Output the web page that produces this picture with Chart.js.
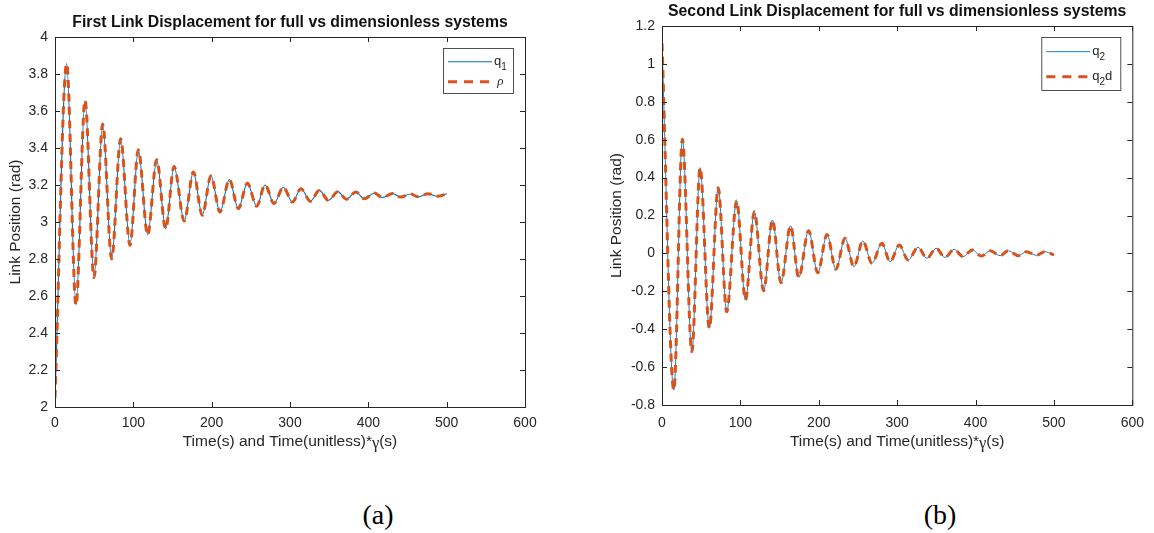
<!DOCTYPE html>
<html>
<head>
<meta charset="utf-8">
<script src="https://cdn.jsdelivr.net/npm/chart.js@4.4.0/dist/chart.umd.min.js"></script>
<style>
    html, body { margin: 0; padding: 0; background: #fff; }
    #wrap { position: relative; width: 1154px; height: 533px; overflow: hidden; }
    canvas { position: absolute; top: 0; }
    .cap { position: absolute; top: 501px; line-height: 28px; font-family: "Liberation Serif", "Times New Roman", serif; font-size: 28px; color: #000; transform: translateX(-50%); }
</style>
</head>
<body>
<div id="wrap">
    <canvas id="chartA" width="580" height="460" style="left:0"></canvas>
    <canvas id="chartB" width="574" height="460" style="left:580px"></canvas>
    <div class="cap" style="left:378px">(a)</div>
    <div class="cap" style="left:940px">(b)</div>
</div>
<script>
// First link: extrema (time, rad)
const q1Time = [0, 14.9, 26.8, 38.3, 49.8, 60.9, 72.3, 83.8, 95.7, 106.4, 118.3, 129.8, 141.3, 152.0,
    165.0, 176.6, 188.0, 199.1, 210.6, 222.6, 234.0, 245.6, 257.5, 268.1, 279.6, 291.5, 303, 314,
    326, 337.5, 349, 361, 372, 384, 395, 408, 418, 431, 441, 454, 464, 476, 488, 500];
const q1Values = [2.05, 3.856, 2.55, 3.658, 2.70, 3.53, 2.80, 3.45, 2.874, 3.39, 2.93, 3.337, 2.964, 3.30,
    3.005, 3.27, 3.036, 3.25, 3.054, 3.23, 3.072, 3.21, 3.085, 3.20, 3.10, 3.188, 3.108, 3.18,
    3.112, 3.171, 3.117, 3.164, 3.123, 3.162, 3.126, 3.157, 3.132, 3.154, 3.135, 3.151, 3.136, 3.153, 3.139, 3.152];
const rhoValues = q1Values; // dimensionless curve lies on top of q1

// Second link
const q2Time = [0, 15.1, 26, 38.1, 48.6, 60.4, 71.7, 82.6, 95.2, 106.5, 117.8, 129.6, 140.9, 151.8,
    164, 174.5, 187, 198.7, 210.5, 221.8, 233.5, 244.8, 256.2, 267.9, 280.5, 291, 302.7, 314,
    326.6, 338, 349.7, 361, 372.7, 384, 395.8, 407.5, 418.9, 431.4, 441.9, 454.5, 465, 477.6, 488, 500];
const q2Values = [1.109, -0.721, 0.602, -0.519, 0.452, -0.395, 0.347, -0.308, 0.277, -0.246, 0.22, -0.197, 0.176, -0.155,
    0.145, -0.126, 0.12, -0.102, 0.10, -0.084, 0.08, -0.07, 0.065, -0.052, 0.053, -0.044, 0.044, -0.035,
    0.032, -0.026, 0.027, -0.021, 0.021, -0.017, 0.018, -0.014, 0.014, -0.012, 0.014, -0.012, 0.009, -0.010, 0.009, -0.008];
const q2dValues = q2Values;

const xTicks = [0, 100, 200, 300, 400, 500, 600];

const axisColor = '#262626';
const sans = '"Liberation Sans", Arial, Helvetica, sans-serif';
const blue = '#0072BD';
const orange = '#D95319';

function toPoints(ts, vs) {
    return ts.map((t, i) => ({ x: t, y: vs[i] }));
}

// draws text pieces one after another (for subscripts and greek letters)
function drawParts(ctx, parts, x, y, align) {
    let total = 0;
    parts.forEach(p => { ctx.font = p.font; total += ctx.measureText(p.text).width; });
    let cx = align === 'center' ? x - total / 2 : x;
    parts.forEach(p => {
        ctx.font = p.font;
        ctx.fillText(p.text, cx, y + (p.dy || 0));
        cx += ctx.measureText(p.text).width;
    });
}

// MATLAB-like box, inner ticks, titles and legend
const decoPlugin = {
    id: 'deco',
    afterDatasetsDraw(chart, args, opts) {
        const ctx = chart.ctx;
        const a = chart.chartArea;
        const xs = chart.scales.x, ys = chart.scales.y;
        ctx.save();
        ctx.strokeStyle = axisColor;
        ctx.lineWidth = 1;
        ctx.strokeRect(a.left + 0.5, a.top + 0.5, a.right - a.left, a.bottom - a.top);

        const tl = 5;
        ctx.beginPath();
        xs.ticks.forEach((t, i) => {
            const px = Math.round(xs.getPixelForTick(i)) + 0.5;
            ctx.moveTo(px, a.bottom); ctx.lineTo(px, a.bottom - tl);
            ctx.moveTo(px, a.top); ctx.lineTo(px, a.top + tl);
        });
        ys.ticks.forEach((t, i) => {
            const py = Math.round(ys.getPixelForTick(i)) + 0.5;
            ctx.moveTo(a.left, py); ctx.lineTo(a.left + tl, py);
            ctx.moveTo(a.right, py); ctx.lineTo(a.right - tl, py);
        });
        ctx.stroke();

        ctx.fillStyle = axisColor;
        ctx.textBaseline = 'middle';
        ctx.textAlign = 'left';
        const midX = (a.left + a.right) / 2;

        // title
        ctx.fillStyle = '#111';
        drawParts(ctx, [{ text: opts.title, font: 'bold 15.8px ' + sans }], midX, a.top - 14, 'center');
        ctx.fillStyle = axisColor;

        // x axis title
        drawParts(ctx, [
            { text: 'Time(s) and Time(unitless)*', font: '15.5px ' + sans },
            { text: 'γ', font: '16.5px "Liberation Serif", serif', dy: 2 },
            { text: '(s)', font: '15.5px ' + sans }
        ], midX, a.bottom + opts.xTitleGap, 'center');

        // y axis title
        ctx.save();
        ctx.translate(a.left - opts.yTitleGap, (a.top + a.bottom) / 2);
        ctx.rotate(-Math.PI / 2);
        drawParts(ctx, [{ text: 'Link Position (rad)', font: '15.5px ' + sans }], 0, 0, 'center');
        ctx.restore();

        // legend
        const lg = opts.legend;
        const bx = a.right - 12 - lg.w, by = a.top + 11;
        ctx.fillStyle = '#fff';
        ctx.fillRect(bx, by, lg.w, lg.h);
        ctx.strokeStyle = axisColor;
        ctx.lineWidth = 0.8;
        ctx.strokeRect(bx + 0.5, by + 0.5, lg.w, lg.h);
        ctx.textBaseline = 'alphabetic';
        lg.items.forEach((it, i) => {
            const y = by + lg.rows[i];
            ctx.beginPath();
            ctx.strokeStyle = it.color;
            ctx.lineWidth = it.width;
            ctx.setLineDash(it.dash || []);
            ctx.moveTo(bx + 5, y);
            ctx.lineTo(bx + 49, y);
            ctx.stroke();
            ctx.setLineDash([]);
            ctx.fillStyle = axisColor;
            drawParts(ctx, it.parts, bx + 51, y + 3, 'left');
        });
        ctx.restore();
    }
};

function makeChart(id, series, yMin, yMax, pad, deco) {
    const ctx = document.getElementById(id).getContext('2d');
    return new Chart(ctx, {
        type: 'line',
        data: {
            datasets: series.map(s => ({
                data: s.data,
                borderColor: s.color,
                borderWidth: s.width,
                borderDash: s.dash || [],
                borderCapStyle: 'butt',
                pointRadius: 0,
                fill: false,
                cubicInterpolationMode: 'monotone',
                order: s.order
            }))
        },
        options: {
            responsive: false,
            animation: false,
            layout: { padding: pad.layout },
            plugins: {
                legend: { display: false },
                tooltip: { enabled: false },
                deco: deco
            },
            scales: {
                x: {
                    type: 'linear',
                    min: 0, max: 600,
                    afterBuildTicks: s => { s.ticks = xTicks.map(v => ({ value: v })); },
                    grid: { display: false, drawTicks: false },
                    border: { display: false },
                    ticks: { color: axisColor, font: { family: sans, size: 14 }, padding: pad.xTick, maxRotation: 0 },
                    afterFit: s => { s.height = 40; }
                },
                y: {
                    min: yMin, max: yMax,
                    grid: { display: false, drawTicks: false },
                    border: { display: false },
                    ticks: {
                        stepSize: 0.2,
                        color: axisColor,
                        font: { family: sans, size: 14 },
                        padding: 7,
                        callback: v => String(+v.toFixed(1))
                    },
                    afterFit: s => { s.width = 55; }
                }
            }
        },
        plugins: [decoPlugin]
    });
}

makeChart('chartA', [
    { data: toPoints(q1Time, q1Values), color: blue, width: 1.1, order: 2 },
    { data: toPoints(q1Time, rhoValues), color: orange, width: 3, dash: [8, 5.5], order: 1 }
], 2, 4, { layout: { left: 0, right: 55, top: 37, bottom: 13 }, xTick: 8 }, {
    title: 'First Link Displacement for full vs dimensionless systems',
    xTitleGap: 35, yTitleGap: 39,
    legend: {
        w: 70, h: 45, rows: [13.7, 33.7],
        items: [
            { color: blue, width: 1.1, parts: [{ text: 'q', font: '13px ' + sans }, { text: '1', font: '10px ' + sans, dy: 5 }] },
            { color: orange, width: 3, dash: [9, 7], parts: [{ text: ' ρ', font: 'italic 13px "Liberation Serif", serif' }] }
        ]
    }
});

makeChart('chartB', [
    { data: toPoints(q2Time, q2Values), color: blue, width: 0.9, order: 2 },
    { data: toPoints(q2Time, q2dValues), color: orange, width: 3, dash: [8, 5.5], order: 1 }
], -0.8, 1.2, { layout: { left: 27, right: 15, top: 26, bottom: 15 }, xTick: 10 }, {
    title: 'Second Link Displacement for full vs dimensionless systems',
    xTitleGap: 36.5, yTitleGap: 45,
    legend: {
        w: 79, h: 53, rows: [14.7, 39.7],
        items: [
            { color: blue, width: 0.9, parts: [{ text: 'q', font: '13px ' + sans }, { text: '2', font: '10px ' + sans, dy: 5 }] },
            { color: orange, width: 3, dash: [9, 7], parts: [{ text: 'q', font: '13px ' + sans }, { text: '2', font: '10px ' + sans, dy: 5 }, { text: 'd', font: '13px ' + sans }] }
        ]
    }
});
</script>
</body>
</html>
